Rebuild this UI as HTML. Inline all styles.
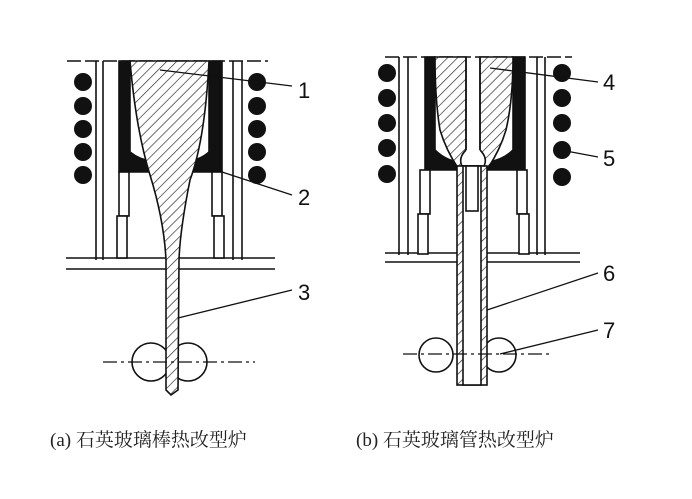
<!DOCTYPE html>
<html><head><meta charset="utf-8"><style>
html,body{margin:0;padding:0;background:#fff;}
svg{display:block}
</style></head><body>
<svg width="692" height="499" viewBox="0 0 692 499" xmlns="http://www.w3.org/2000/svg">
<defs>
<pattern id="h" patternUnits="userSpaceOnUse" width="7" height="7" patternTransform="rotate(45)">
<rect width="7" height="7" fill="#fff"/><line x1="0" y1="0" x2="0" y2="7" stroke="#222" stroke-width="1.3"/>
</pattern>
</defs>
<g stroke="#111" fill="none" stroke-width="1.6">
<!-- LEFT -->
<line x1="67" y1="61" x2="268" y2="61" stroke-dasharray="14 4"/>
<line x1="96" y1="61" x2="96" y2="260"/><line x1="103" y1="61" x2="103" y2="260"/>
<line x1="233" y1="61" x2="233" y2="260"/><line x1="242" y1="61" x2="242" y2="260"/>
<line x1="66" y1="258" x2="275" y2="258"/><line x1="66" y1="269" x2="275" y2="269"/>
<path d="M119 61 H130 V152 Q140 160 152 161 L149 172 H119 Z" fill="#111"/>
<path d="M222 61 H209 V152 Q200 160 188 161 L192 172 H222 Z" fill="#111"/>
<circle cx="151" cy="362" r="19" fill="#fff"/><circle cx="188" cy="362" r="19" fill="#fff"/>
<path d="M130 61 H209 Q205 140 190 180 Q180 230 179 260 L178 390 L171 395 L166 390 L166 260 Q164 220 150 175 Q136 130 130 61 Z" fill="url(#h)"/>
<rect x="119" y="172" width="10" height="44" fill="#fff"/><rect x="117" y="216" width="10" height="42" fill="#fff"/>
<rect x="212" y="172" width="10" height="44" fill="#fff"/><rect x="214" y="216" width="10" height="42" fill="#fff"/>
<line x1="103" y1="362" x2="255" y2="362" stroke-dasharray="14 4 3 4" stroke-width="1.2"/>
<line x1="160" y1="70" x2="292" y2="86" stroke-width="1.3"/>
<line x1="222" y1="172" x2="292" y2="195" stroke-width="1.3"/>
<line x1="178" y1="318" x2="292" y2="290" stroke-width="1.3"/>
<!-- RIGHT -->
<line x1="385" y1="57" x2="572" y2="57" stroke-dasharray="14 4"/>
<line x1="399" y1="57" x2="399" y2="255"/><line x1="408" y1="57" x2="408" y2="255"/>
<line x1="537" y1="57" x2="537" y2="255"/><line x1="545" y1="57" x2="545" y2="255"/>
<line x1="385" y1="253" x2="580" y2="253"/><line x1="385" y1="262" x2="580" y2="262"/>
<path d="M425 57 H435 V150 Q445 160 458 162 L457 170 H425 Z" fill="#111"/>
<path d="M525 57 H513 V150 Q503 160 488 162 L488 170 H525 Z" fill="#111"/>
<path d="M435 57 H466 V150 Q462 160 464 165 L458 168 Q446 150 440 130 Q435 100 435 57 Z" fill="url(#h)"/>
<path d="M513 57 H480 V150 Q484 160 482 165 L488 168 Q500 150 506 130 Q513 100 513 57 Z" fill="url(#h)"/>
<line x1="466" y1="57" x2="466" y2="150"/><line x1="480" y1="57" x2="480" y2="150"/>
<path d="M466 150 Q458 158 462 166 H484 Q488 158 480 150" fill="#fff"/>
<circle cx="436" cy="355" r="17" fill="#fff"/><circle cx="499" cy="355" r="17" fill="#fff"/>
<rect x="457" y="166" width="30" height="219" fill="url(#h)"/>
<rect x="463" y="166" width="18" height="219" fill="#fff"/>
<rect x="466" y="166" width="12" height="45" fill="#fff"/>
<rect x="420" y="170" width="10" height="44" fill="#fff"/><rect x="418" y="214" width="10" height="40" fill="#fff"/>
<rect x="517" y="170" width="10" height="44" fill="#fff"/><rect x="519" y="214" width="10" height="40" fill="#fff"/>
<line x1="403" y1="354" x2="550" y2="354" stroke-dasharray="14 4 3 4" stroke-width="1.2"/>
<line x1="490" y1="68" x2="598" y2="82" stroke-width="1.3"/>
<line x1="566" y1="151" x2="598" y2="157" stroke-width="1.3"/>
<line x1="487" y1="310" x2="598" y2="273" stroke-width="1.3"/>
<line x1="500" y1="354" x2="598" y2="330" stroke-width="1.3"/>
</g>
<g fill="#111">
<circle cx="83" cy="82" r="9"/><circle cx="83" cy="106" r="9"/><circle cx="83" cy="129" r="9"/><circle cx="83" cy="152" r="9"/><circle cx="83" cy="175" r="9"/>
<circle cx="257" cy="82" r="9"/><circle cx="257" cy="106" r="9"/><circle cx="257" cy="129" r="9"/><circle cx="257" cy="152" r="9"/><circle cx="257" cy="175" r="9"/>
<circle cx="387" cy="73" r="9"/><circle cx="387" cy="98" r="9"/><circle cx="387" cy="123" r="9"/><circle cx="387" cy="148" r="9"/><circle cx="387" cy="174" r="9"/>
<circle cx="562" cy="73" r="9"/><circle cx="562" cy="98" r="9"/><circle cx="562" cy="123" r="9"/><circle cx="562" cy="150" r="9"/><circle cx="562" cy="177" r="9"/>
</g>
<g font-family="Liberation Sans, sans-serif" font-size="22" fill="#111">
<text x="298" y="98">1</text><text x="298" y="205">2</text><text x="298" y="300">3</text>
<text x="603" y="90">4</text><text x="603" y="166">5</text><text x="603" y="281">6</text><text x="603" y="338">7</text>
</g>
<g font-family="Liberation Serif, 'Noto Serif CJK SC', serif" font-size="19" fill="#222">
<text x="50" y="446">(a) 石英玻璃棒热改型炉</text>
<text x="356" y="446">(b) 石英玻璃管热改型炉</text>
</g>
</svg>
</body></html>
